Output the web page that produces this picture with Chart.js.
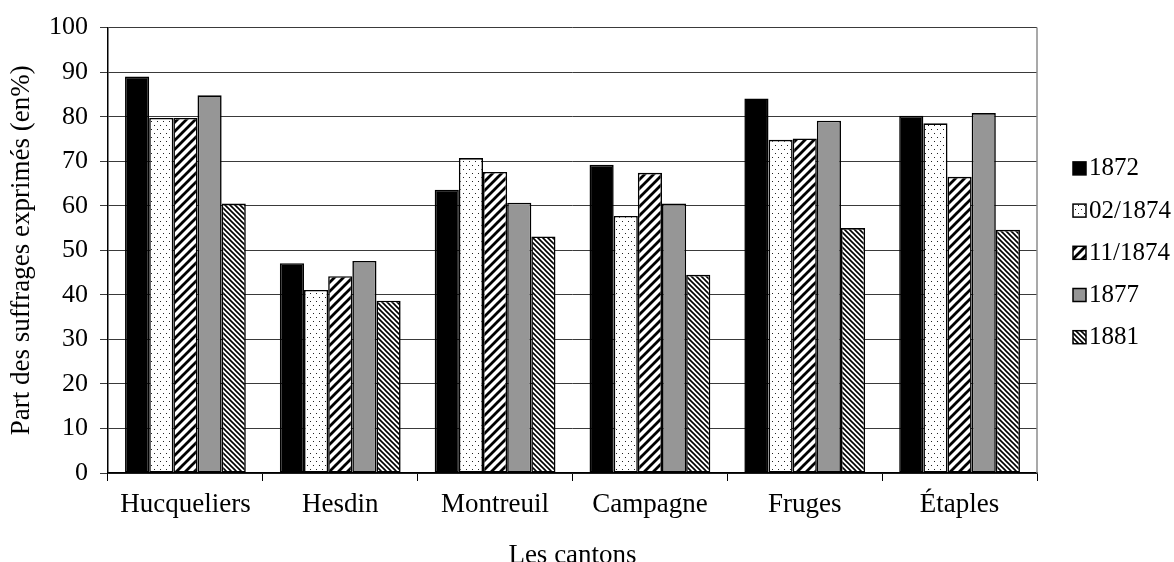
<!DOCTYPE html>
<html>
<head>
<meta charset="utf-8">
<script src="https://cdn.jsdelivr.net/npm/chart.js@4/dist/chart.umd.min.js"></script>
<style>
    html, body { margin: 0; padding: 0; background: #fff; }
    #wrap { width: 1174px; height: 562px; }
</style>
</head>
<body>
<div id="wrap"><canvas id="chart"></canvas></div>
<script>
// Data
const cantons = ['Hucqueliers', 'Hesdin', 'Montreuil', 'Campagne', 'Fruges', 'Étaples'];
const years = ['1872', '02/1874', '11/1874', '1877', '1881'];
const v1872 = [89, 47.1, 63.6, 69.2, 84.1, 80.2];
const v1874a = [79.7, 41.1, 70.7, 57.7, 74.8, 78.5];
const v1874b = [79.7, 44.2, 67.6, 67.4, 75.1, 66.5];
const v1877 = [84.8, 47.6, 60.7, 60.5, 79.1, 80.8];
const v1881 = [60.5, 38.7, 53.1, 44.5, 55.0, 54.6];
const yTicks = [0, 10, 20, 30, 40, 50, 60, 70, 80, 90, 100];

const FONT = 'Liberation Serif, Times New Roman, serif';

// --- Fill patterns ---
function makePattern(w, h, draw) {
    const c = document.createElement('canvas');
    c.width = w; c.height = h;
    const g = c.getContext('2d');
    g.fillStyle = '#fff';
    g.fillRect(0, 0, w, h);
    draw(g, w, h);
    return g.createPattern(c, 'repeat');
}

const ctx = document.getElementById('chart').getContext('2d');

const dots = makePattern(6, 8, g => {
    g.fillStyle = '#222';
    g.fillRect(1, 1, 1, 1);
    g.fillRect(4, 5, 1, 1);
});
const wideSlash = makePattern(9, 9, (g, s) => {
    g.strokeStyle = '#000';
    g.lineWidth = 2.8;
    g.beginPath();
    g.moveTo(-1, s + 1); g.lineTo(s + 1, -1);
    g.moveTo(-3, 3); g.lineTo(3, -3);
    g.moveTo(s - 3, s + 3); g.lineTo(s + 3, s - 3);
    g.stroke();
});
const thinBack = makePattern(5, 5, (g, s) => {
    g.strokeStyle = '#000';
    g.lineWidth = 1.6;
    g.beginPath();
    g.moveTo(-1, -1); g.lineTo(s + 1, s + 1);
    g.moveTo(-3, s - 3); g.lineTo(3, s + 3);
    g.moveTo(s - 3, -3); g.lineTo(s + 3, 3);
    g.stroke();
});

const fills = ['#000', dots, wideSlash, '#969696', thinBack];
const series = [v1872, v1874a, v1874b, v1877, v1881];

// --- Custom legend + right border ---
const decor = {
    id: 'decor',
    afterDraw(chart) {
        const c = chart.ctx, a = chart.chartArea;
        c.save();
        c.strokeStyle = '#8c8c8c';
        c.lineWidth = 1.5;
        c.beginPath();
        c.moveTo(a.right, a.top);
        c.lineTo(a.right, a.bottom);
        c.stroke();

        const mid = (a.top + a.bottom) / 2 + 2;
        const step = 42.2;
        c.font = '25px ' + FONT;
        c.textBaseline = 'middle';
        chart.data.datasets.forEach((ds, i) => {
            const y = mid + (i - 2) * step;
            c.fillStyle = ds.backgroundColor;
            c.fillRect(1073, y - 6, 13, 13);
            c.strokeStyle = '#000';
            c.lineWidth = 1.5;
            c.strokeRect(1073, y - 6, 13, 13);
            c.fillStyle = '#000';
            c.fillText(ds.label, 1089, y + 1);
        });
        c.restore();
    }
};

new Chart(ctx, {
    type: 'bar',
    data: {
        labels: cantons,
        datasets: years.map((y, i) => ({
            label: y,
            data: series[i],
            backgroundColor: fills[i],
            borderColor: '#000',
            borderWidth: 1.6,
            borderSkipped: false
        }))
    },
    options: {
        responsive: true,
        maintainAspectRatio: false,
        animation: false,
        layout: { padding: { top: 23, right: 137, bottom: 0, left: 0 } },
        plugins: { legend: { display: false }, tooltip: { enabled: false } },
        datasets: { bar: { categoryPercentage: 0.78, barPercentage: 1 } },
        scales: {
            x: {
                grid: { offset: true, drawOnChartArea: false, tickLength: 8, color: '#000', lineWidth: 1 },
                border: { color: '#000', width: 1.5 },
                ticks: { font: { family: FONT, size: 27 }, color: '#000', padding: 8 },
                title: {
                    display: true, text: 'Les cantons', color: '#000',
                    font: { family: FONT, size: 27, lineHeight: 1 },
                    padding: { top: 0, bottom: -7 }
                },
                afterFit: s => { s.height = 89; }
            },
            y: {
                min: 0, max: 100,
                afterBuildTicks: s => { s.ticks = yTicks.map(v => ({ value: v })); },
                grid: { color: '#3a3a3a', lineWidth: 1, tickLength: 8 },
                border: { color: '#000', width: 1.5 },
                ticks: { font: { family: FONT, size: 26 }, color: '#000', padding: 12 },
                title: {
                    display: true, text: 'Part des suffrages exprimés (en%)', color: '#000',
                    font: { family: FONT, size: 27, lineHeight: 1 },
                    padding: { top: 8, bottom: 0 }
                },
                afterFit: s => { s.width = 108; }
            }
        }
    },
    plugins: [decor]
});
</script>
</body>
</html>
